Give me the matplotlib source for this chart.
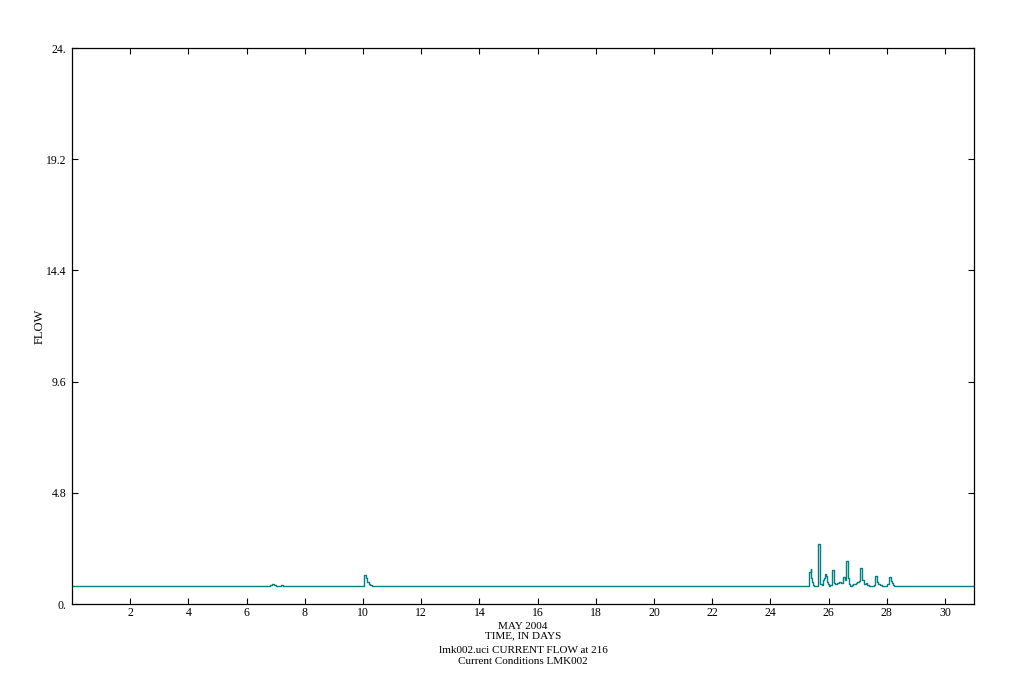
import matplotlib
matplotlib.use('Agg')
import matplotlib.pyplot as plt

# flow record, May 2004 (breakpoints of a stepped series, day of month / flow)
days = [0.0, 6.82, 6.88, 6.95, 7.01, 7.18, 7.26,
        10.05, 10.11, 10.14, 10.19, 10.23, 10.31,
        25.33, 25.38, 25.41, 25.44, 25.48, 25.51,
        25.62, 25.69, 25.72, 25.77, 25.81, 25.85, 25.88, 25.91, 25.94, 25.97, 26.02,
        26.05, 26.13, 26.17, 26.20, 26.23, 26.30, 26.37, 26.42, 26.48, 26.51,
        26.56, 26.59, 26.61, 26.66, 26.69, 26.74, 26.80, 26.85, 26.93, 26.99,
        27.05, 27.09, 27.16, 27.22, 27.28, 27.33, 27.39,
        27.56, 27.60, 27.66, 27.70, 27.77, 27.85,
        28.02, 28.06, 28.09, 28.14, 28.17, 28.22, 28.26, 31.0]
flow = [0.78, 0.82, 0.85, 0.82, 0.79, 0.84, 0.78,
        1.25, 1.11, 0.96, 0.86, 0.82, 0.78,
        1.40, 1.50, 1.11, 0.94, 0.82, 0.78,
        2.59, 1.07, 0.86, 0.82, 1.04, 1.11, 1.29, 1.19, 0.97, 0.85, 0.78,
        0.82, 1.47, 1.04, 0.89, 0.85, 0.91, 0.97, 0.91, 1.04, 1.15,
        1.04, 1.07, 1.86, 1.11, 0.85, 0.78, 0.82, 0.86, 0.91, 0.97,
        1.01, 1.54, 1.04, 0.86, 0.91, 0.82, 0.78,
        0.82, 1.21, 0.95, 0.86, 0.82, 0.78,
        0.86, 0.99, 1.15, 1.00, 0.90, 0.82, 0.78, 0.78]

xticks = list(range(2, 31, 2))
yticks = [0.0, 4.8, 9.6, 14.4, 19.2, 24.0]
ylabels = ['0.', '4.8', '9.6', '14.4', '19.2', '24.']

plt.rcParams['font.family'] = ['Liberation Serif', 'DejaVu Serif']

fig = plt.figure(figsize=(10.22, 7.0), dpi=100)
ax = fig.add_axes([0.0705, 0.1371, 0.8826, 0.7943])

ax.plot(days, flow, drawstyle='steps-post', color='#008080', lw=1.0)

ax.set_xlim(0, 31)
ax.set_ylim(0, 24)
ax.set_xticks(xticks)
ax.set_xticklabels([str(t) for t in xticks])
ax.set_yticks(yticks)
ax.set_yticklabels(ylabels)
ax.tick_params(direction='in', length=4, width=0.8, labelsize=8.5,
               top=True, right=True)
ax.tick_params(axis='x', pad=2)
ax.tick_params(axis='y', pad=4)
for s in ax.spines.values():
    s.set_linewidth(0.9)

# y label placed by hand, close to the tick labels as in the original
fig.text(0.039, 0.534, 'FLOW', rotation=90, ha='center', va='center', fontsize=9)

cx = 0.0705 + 0.8826 / 2
fig.text(cx, 0.1050, 'MAY 2004', ha='center', va='center', fontsize=8)
fig.text(cx, 0.0914, 'TIME, IN DAYS', ha='center', va='center', fontsize=8)
fig.text(cx, 0.0714, 'lmk002.uci CURRENT FLOW at 216', ha='center', va='center', fontsize=8)
fig.text(cx, 0.0543, 'Current Conditions LMK002', ha='center', va='center', fontsize=8)

fig.savefig('out.png', dpi=100)
